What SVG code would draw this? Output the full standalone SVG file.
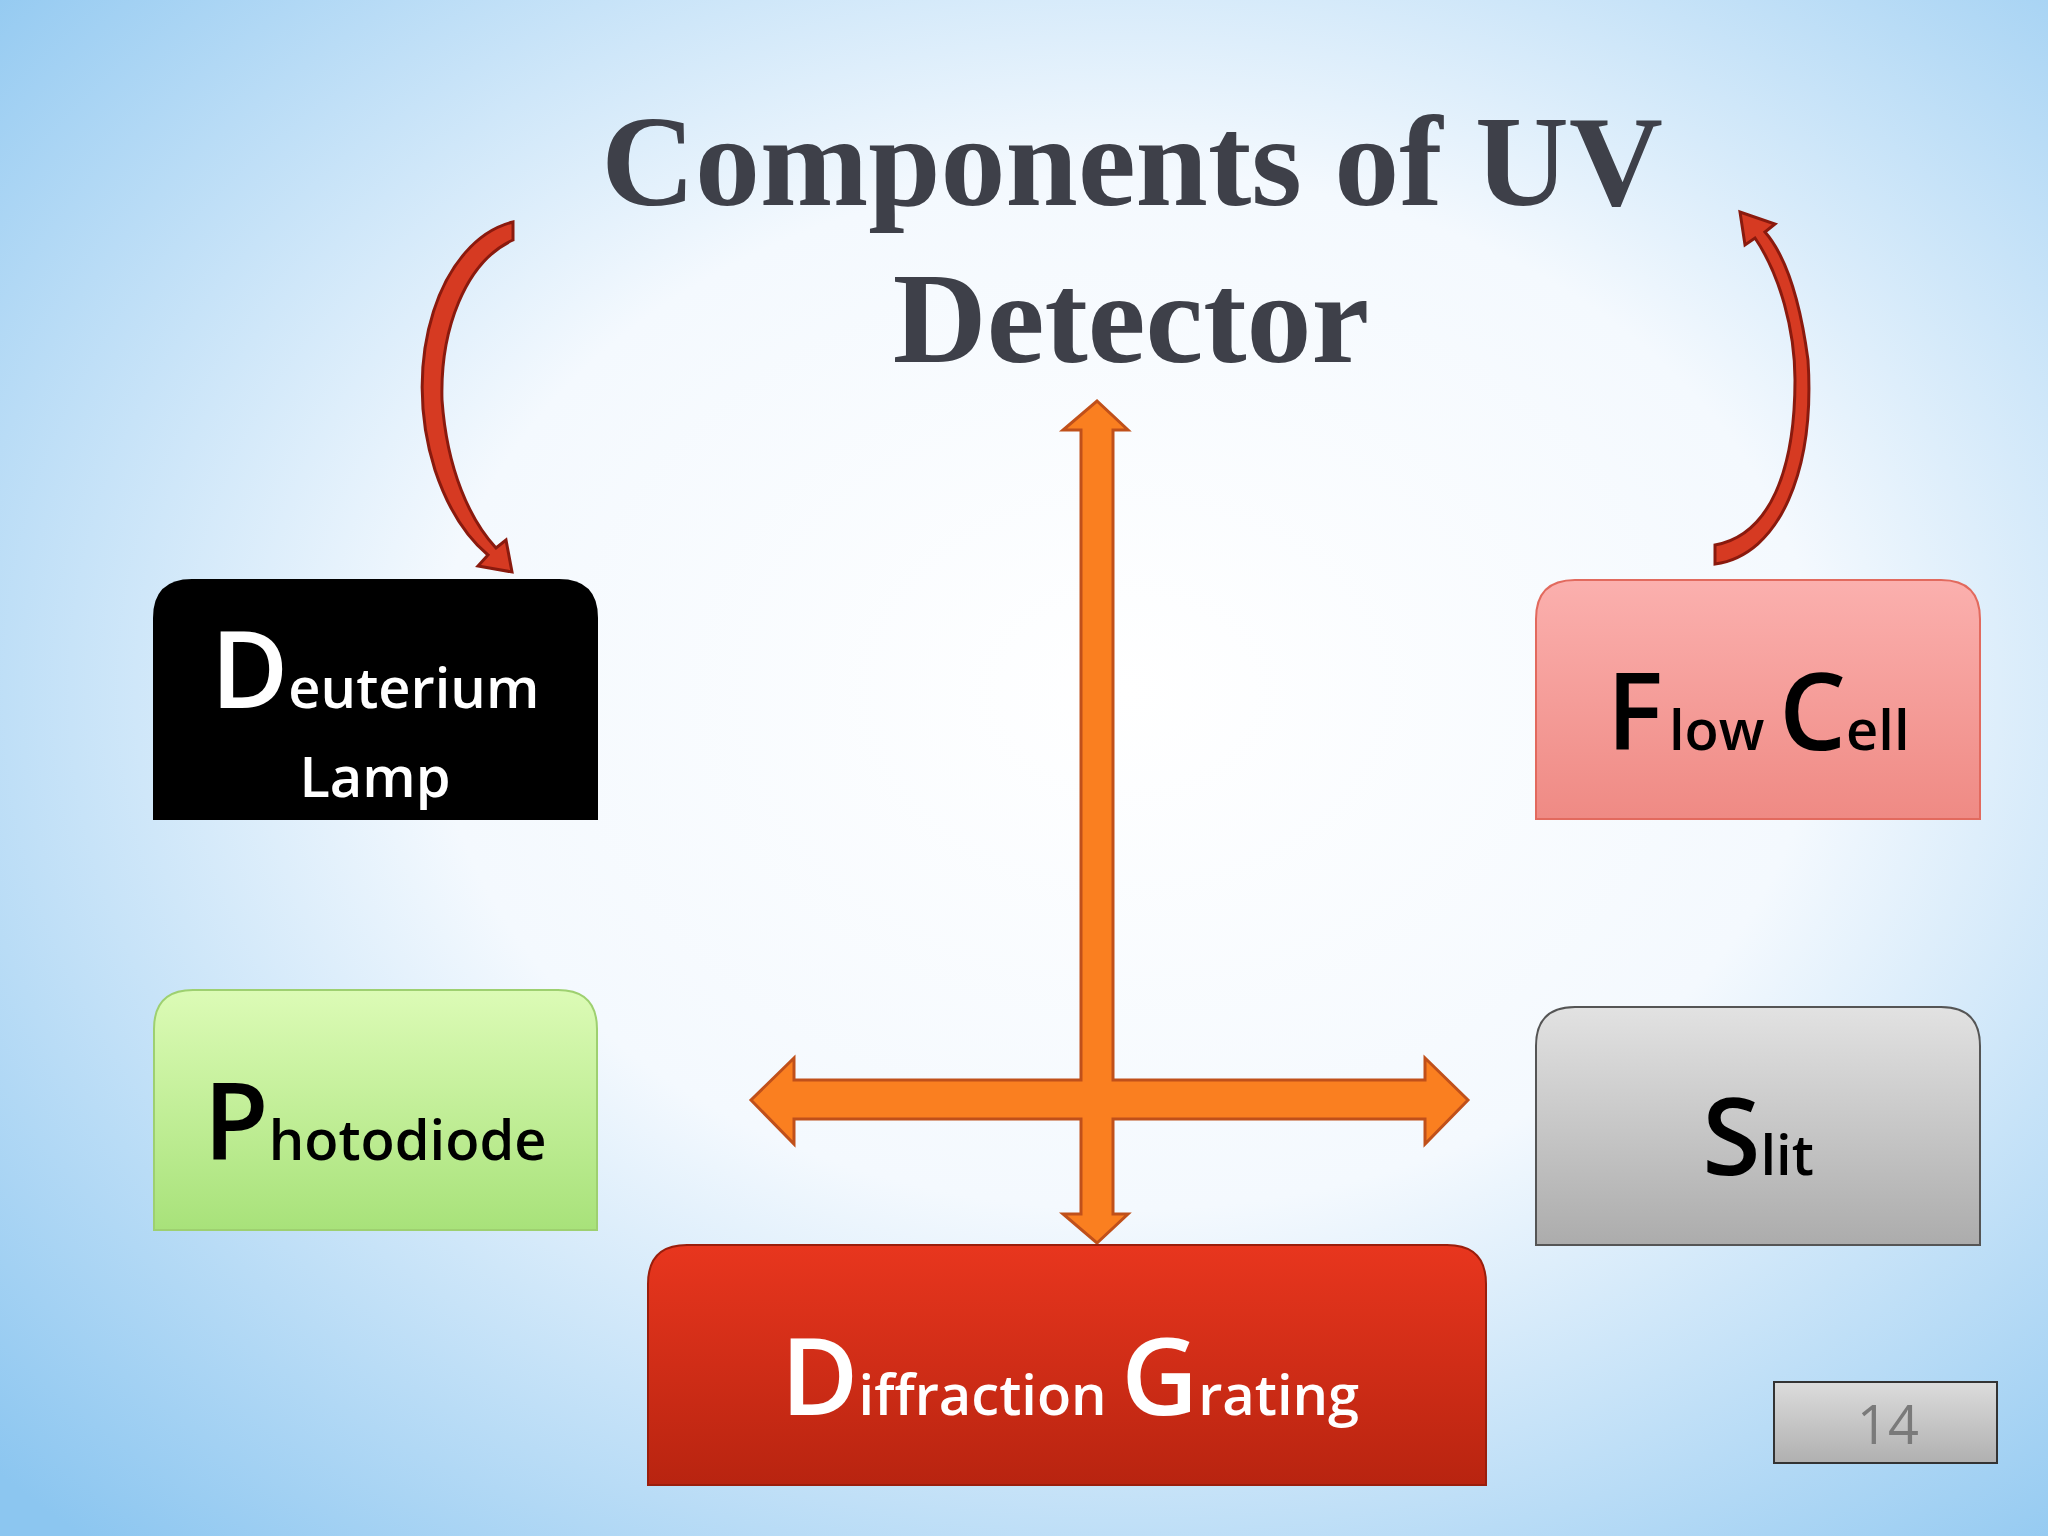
<svg xmlns="http://www.w3.org/2000/svg" width="2048" height="1536" viewBox="0 0 2048 1536">
<defs>
<radialGradient id="bg" cx="0.55" cy="0.45" r="0.75">
<stop offset="0" stop-color="#ffffff"/><stop offset="0.45" stop-color="#f4f9fe"/><stop offset="1" stop-color="#8cc6f0"/>
</radialGradient>
<linearGradient id="pink" x1="0" y1="0" x2="0" y2="1"><stop offset="0" stop-color="#fbb0ae"/><stop offset="1" stop-color="#ef8a84"/></linearGradient>
<linearGradient id="green" x1="0" y1="0" x2="0" y2="1"><stop offset="0" stop-color="#dcfbb6"/><stop offset="1" stop-color="#a8e27a"/></linearGradient>
<linearGradient id="gray" x1="0" y1="0" x2="0" y2="1"><stop offset="0" stop-color="#e2e2e2"/><stop offset="1" stop-color="#acacac"/></linearGradient>
<linearGradient id="red" x1="0" y1="0" x2="0" y2="1"><stop offset="0" stop-color="#e8361e"/><stop offset="1" stop-color="#b82410"/></linearGradient>
<linearGradient id="pg" x1="0" y1="0" x2="0" y2="1"><stop offset="0" stop-color="#dcdcdc"/><stop offset="1" stop-color="#b0b0b0"/></linearGradient>
<style>
.big{font-family:"Open Sans","Lato",sans-serif;font-weight:600;font-size:106px}
.sm{font-family:"Open Sans","Lato",sans-serif;font-weight:600;font-size:56px}
.title{font-family:"Liberation Serif",serif;font-weight:bold;font-size:130px;fill:#3e4049;text-anchor:middle}
.curve{fill:#d63a22;stroke:#8a1a0e;stroke-width:3}
</style>
</defs>
<rect width="2048" height="1536" fill="url(#bg)"/>
<text class="title" x="1132" y="205">Components of UV</text>
<text class="title" x="1131" y="362">Detector</text>

<g id="connectors">
<path d="M1065,1080 H1081 V430 H1063 L1097,401 L1128,430 H1113 V1080 H1425 V1058 L1468,1100 L1425,1144 V1119 H1113 V1214 H1128 L1097,1243 L1063,1214 H1081 V1119 H794 V1144 L751,1100 L794,1058 V1080 Z" fill="#fa7f20" stroke="#c0501a" stroke-width="3"/>
<path class="curve" d="M513,222 C440,240 400,360 435,470 C450,515 470,540 488,555 L478,566 L512,572 L506,540 L496,548 C470,520 447,470 442,400 C440,330 465,262 513,240 Z"/>
<path class="curve" d="M1715,564 C1780,555 1815,470 1808,360 C1800,300 1785,255 1765,232 L1775,224 L1740,212 L1745,245 L1755,238 C1780,275 1795,330 1795,380 C1795,470 1770,535 1715,545 Z"/>
</g>

<g id="deuterium">
<path d="M153,820 V618 Q153,579 192,579 H559 Q598,579 598,618 V820 Z" fill="#000"/>
<text x="375" y="708" text-anchor="middle" fill="#fff"><tspan class="big">D</tspan><tspan class="sm">euterium</tspan></text>
<text class="sm" x="375" y="797" text-anchor="middle" fill="#fff">Lamp</text>
</g>
<g id="flowcell">
<path d="M1536,819 V619 Q1536,580 1575,580 H1941 Q1980,580 1980,619 V819 Z" fill="url(#pink)" stroke="#e26a5e" stroke-width="2"/>
<text x="1758" y="750" text-anchor="middle" fill="#000"><tspan class="big">F</tspan><tspan class="sm" dx="6">low </tspan><tspan class="big">C</tspan><tspan class="sm">ell</tspan></text>
</g>
<g id="photodiode">
<path d="M154,1230 V1029 Q154,990 193,990 H558 Q597,990 597,1029 V1230 Z" fill="url(#green)" stroke="#9ed070" stroke-width="2"/>
<text x="375" y="1160" text-anchor="middle" fill="#000"><tspan class="big">P</tspan><tspan class="sm">hotodiode</tspan></text>
</g>
<g id="slit">
<path d="M1536,1245 V1046 Q1536,1007 1575,1007 H1941 Q1980,1007 1980,1046 V1245 Z" fill="url(#gray)" stroke="#555" stroke-width="2"/>
<text x="1758" y="1175" text-anchor="middle" fill="#000"><tspan class="big">S</tspan><tspan class="sm">lit</tspan></text>
</g>
<g id="grating">
<path d="M648,1485 V1284 Q648,1245 687,1245 H1447 Q1486,1245 1486,1284 V1485 Z" fill="url(#red)" stroke="#9a1e0c" stroke-width="2"/>
<text x="1070" y="1415" text-anchor="middle" fill="#fff"><tspan class="big">D</tspan><tspan class="sm">iffraction </tspan><tspan class="big">G</tspan><tspan class="sm">rating</tspan></text>
</g>
<g id="page">
<rect x="1774" y="1382" width="223" height="81" fill="url(#pg)" stroke="#333" stroke-width="2"/>
<text x="1888" y="1444" text-anchor="middle" font-family="Open Sans,sans-serif" font-size="54" fill="#7a7a7a">14</text>
</g>
</svg>
